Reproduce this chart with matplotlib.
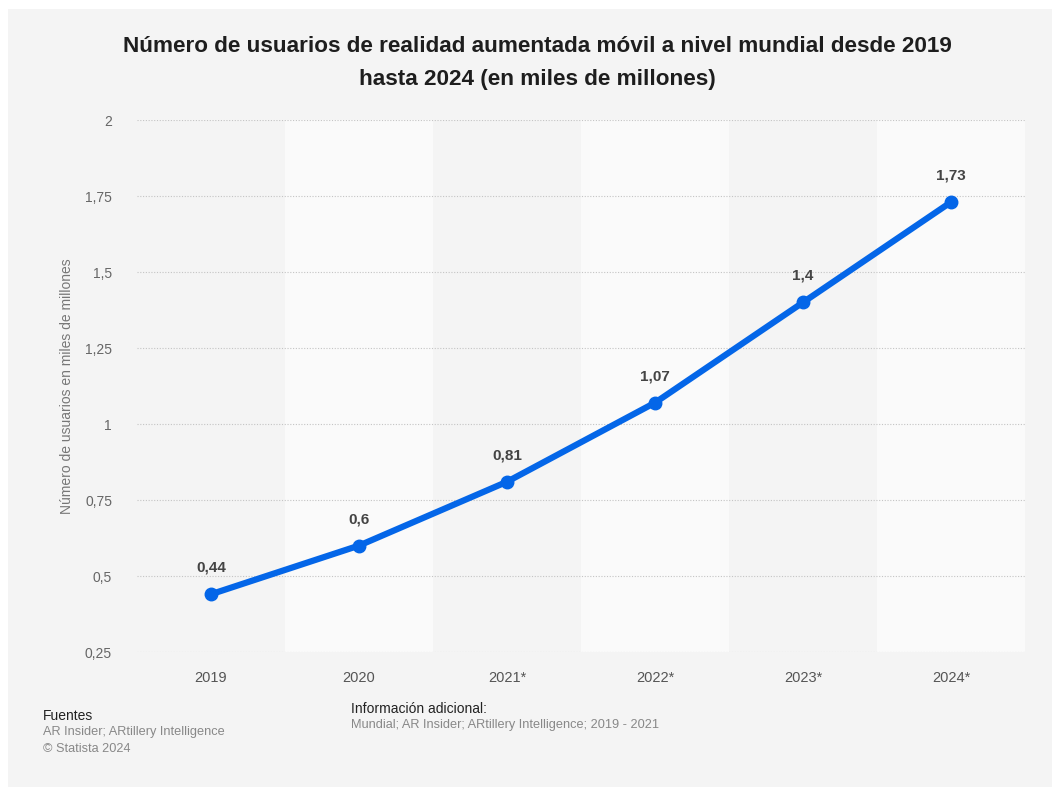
import numpy as np
import matplotlib.pyplot as plt
from matplotlib.patches import Rectangle

years = ["2019", "2020", "2021*", "2022*", "2023*", "2024*"]
users = [0.44, 0.6, 0.81, 1.07, 1.4, 1.73]
labels = ["0,44", "0,6", "0,81", "1,07", "1,4", "1,73"]
yticks = [0.25, 0.5, 0.75, 1, 1.25, 1.5, 1.75, 2]
ytick_labels = ["0,25", "0,5", "0,75", "1", "1,25", "1,5", "1,75", "2"]

plt.rcParams['font.family'] = ['Liberation Sans', 'DejaVu Sans']

fig = plt.figure(figsize=(10.59, 7.87), dpi=100)
fig.patch.set_facecolor('white')
# grey panel behind everything
fig.patches.append(Rectangle((8 / 1059, 0), 1044 / 1059, 1 - 9 / 787,
                             transform=fig.transFigure, facecolor='#f4f4f4',
                             edgecolor='none', zorder=-10))

ax = fig.add_axes([137 / 1059, 1 - 652 / 787, 888 / 1059, 532 / 787])
ax.set_facecolor('#f4f4f4')
x = np.arange(len(years))

# alternating column bands
for i in x:
    if i % 2 == 1:
        ax.axvspan(i - 0.5, i + 0.5, color='#fafafa', zorder=0, lw=0)

for yt in yticks:
    ax.axhline(yt, color='#c4c4c4', lw=0.8, ls=(0, (1, 1.5)), zorder=1)

ax.plot(x, users, color='#0466e8', lw=4.5, marker='o', ms=9,
        solid_capstyle='round', zorder=3)

for xi, yi, lab in zip(x, users, labels):
    ax.annotate(lab, (xi, yi), xytext=(0, 14), textcoords='offset points',
                ha='center', va='bottom', fontsize=11, fontweight='bold',
                color='#444444')

ax.set_xlim(-0.5, len(years) - 0.5)
ax.set_ylim(0.25, 2)
ax.set_xticks(x)
ax.set_xticklabels(years, fontsize=10.5, color='#555555')
ax.set_yticks(yticks)
ax.set_yticklabels(ytick_labels, fontsize=10, color='#666666')
ax.tick_params(length=0, pad=14)
ax.tick_params(axis='y', pad=18)
for s in ax.spines.values():
    s.set_visible(False)
ax.set_ylabel("Número de usuarios en miles de millones", fontsize=10,
              color='#777777', labelpad=8)

fig.text(537 / 1059, 1 - 47 / 787,
         "Número de usuarios de realidad aumentada móvil a nivel mundial desde 2019",
         ha='center', va='center', fontsize=16.2, fontweight='bold', color='#1e1e1e')
fig.text(537 / 1059, 1 - 80 / 787, "hasta 2024 (en miles de millones)",
         ha='center', va='center', fontsize=16.2, fontweight='bold', color='#1e1e1e')

fig.text(43 / 1059, 1 - 716 / 787, "Fuentes", fontsize=10, color='#222222', va='center')
fig.text(43 / 1059, 1 - 732 / 787, "AR Insider; ARtillery Intelligence", fontsize=9.2,
         color='#888888', va='center')
fig.text(43 / 1059, 1 - 749 / 787, "© Statista 2024", fontsize=9.2,
         color='#888888', va='center')
fig.text(351 / 1059, 1 - 709 / 787, "Información adicional:", fontsize=10,
         color='#222222', va='center')
fig.text(351 / 1059, 1 - 725 / 787,
         "Mundial; AR Insider; ARtillery Intelligence; 2019 - 2021", fontsize=9.2,
         color='#888888', va='center')

fig.savefig('out.png', dpi=100)
